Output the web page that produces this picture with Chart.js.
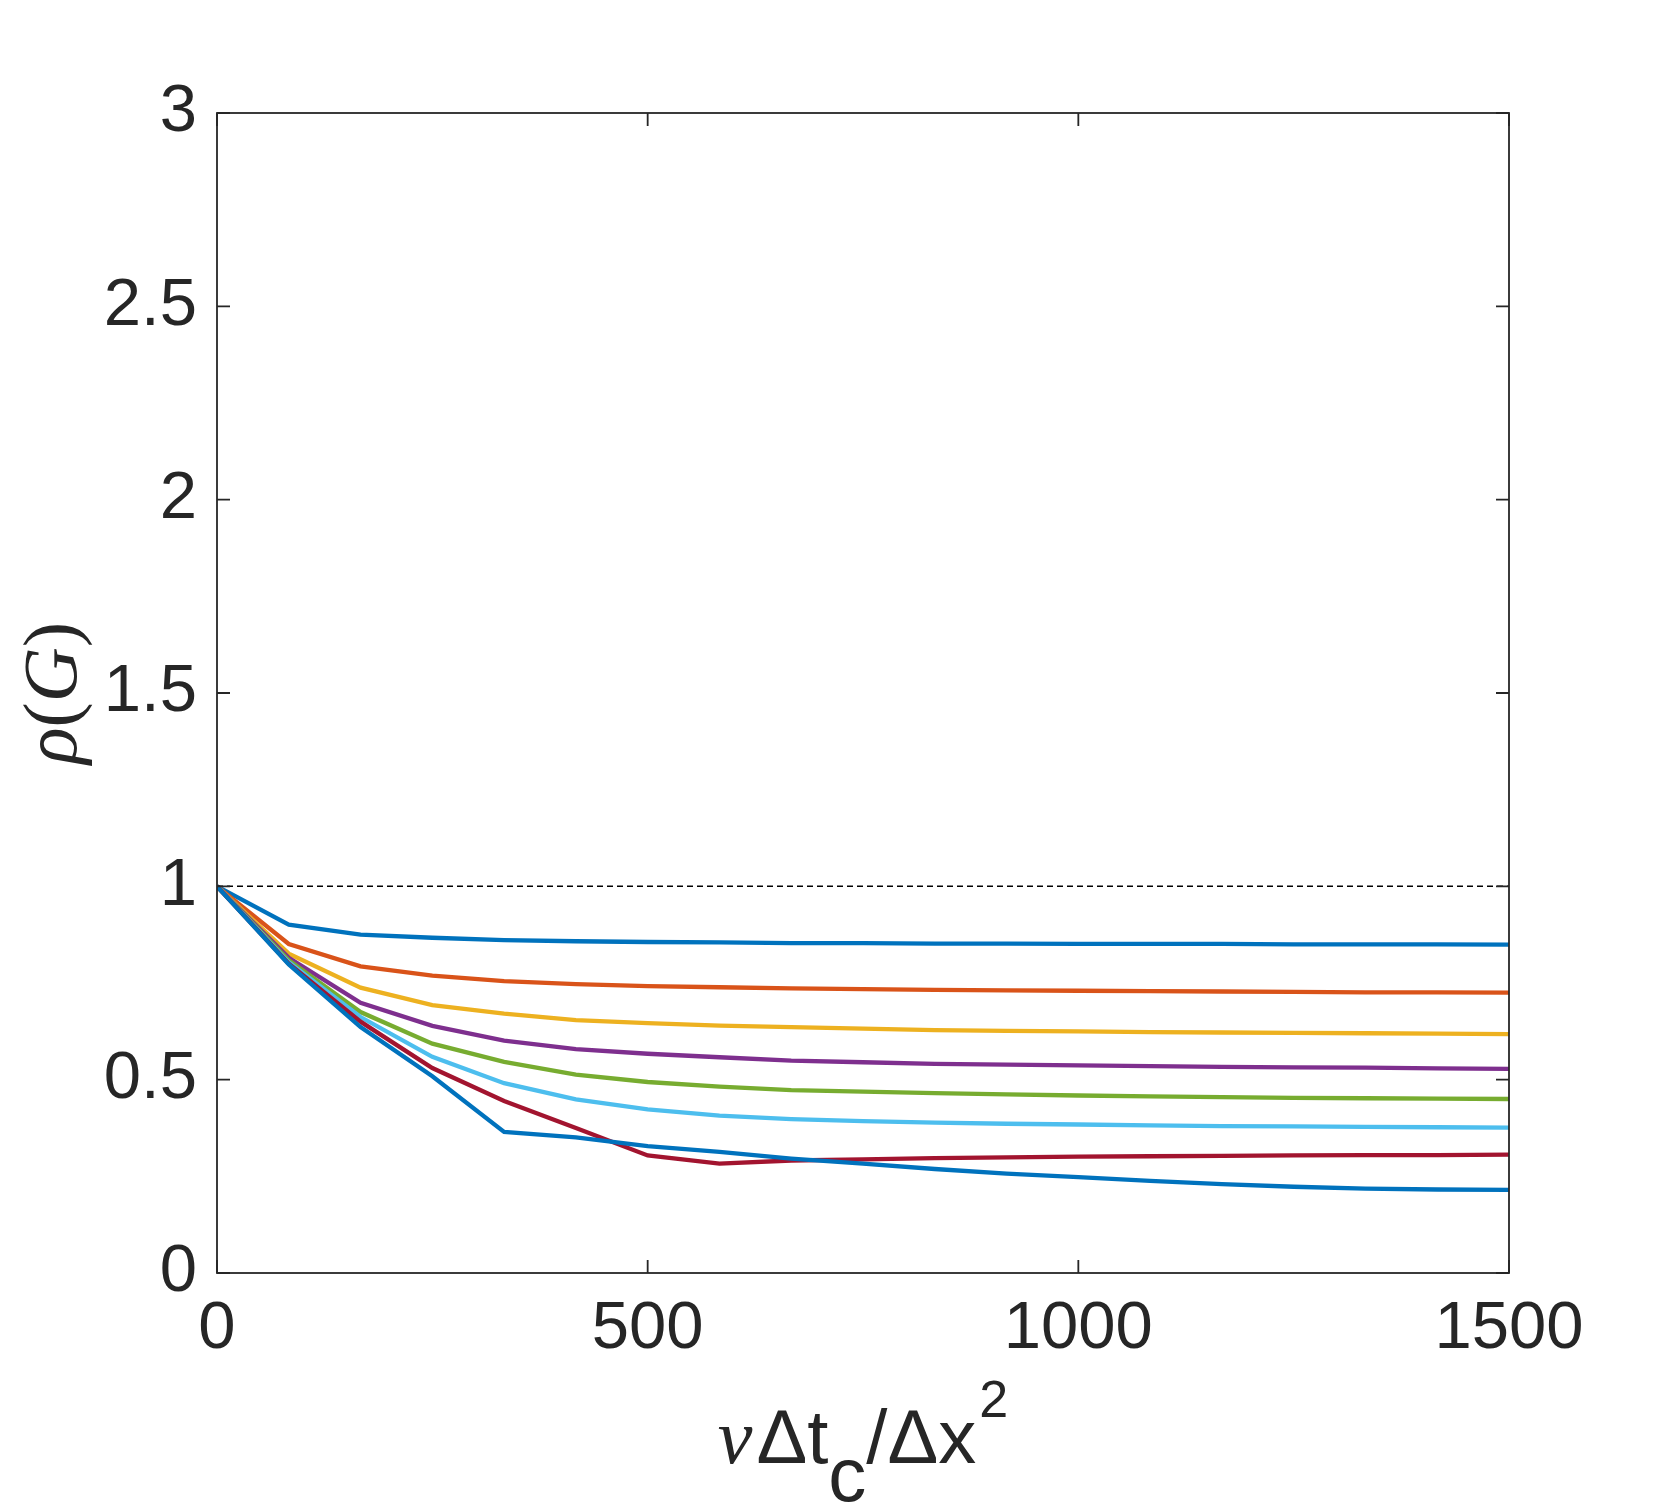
<!DOCTYPE html>
<html>
<head>
<meta charset="utf-8">
<script src="https://cdn.jsdelivr.net/npm/chart.js@4.4.1/dist/chart.umd.min.js"></script>
<style>
  html, body { margin: 0; padding: 0; background: #fff; }
  canvas { display: block; }
</style>
</head>
<body>
<canvas id="myChart" width="1667" height="1512"></canvas>
<script>
let popCanvas = document.getElementById("myChart");

// ---------------- data ----------------
let xValues = [0, 83.33, 166.67, 250, 333.33, 416.67, 500, 583.33, 666.67, 750,
               833.33, 916.67, 1000, 1083.33, 1166.67, 1250, 1333.33, 1416.67, 1500];

let series1 = [1, 0.901, 0.875, 0.867, 0.861, 0.858, 0.856, 0.855, 0.853, 0.853, 0.852, 0.852, 0.851, 0.851, 0.851, 0.850, 0.850, 0.850, 0.849];
let series2 = [1, 0.851, 0.793, 0.769, 0.755, 0.747, 0.742, 0.739, 0.736, 0.734, 0.732, 0.731, 0.730, 0.729, 0.728, 0.727, 0.726, 0.726, 0.725];
let series3 = [1, 0.826, 0.738, 0.693, 0.671, 0.654, 0.646, 0.640, 0.636, 0.632, 0.628, 0.626, 0.625, 0.623, 0.622, 0.621, 0.620, 0.619, 0.618];
let series4 = [1, 0.815, 0.699, 0.639, 0.601, 0.579, 0.567, 0.558, 0.549, 0.545, 0.541, 0.539, 0.537, 0.535, 0.533, 0.532, 0.531, 0.529, 0.528];
let series5 = [1, 0.809, 0.675, 0.593, 0.546, 0.513, 0.494, 0.482, 0.473, 0.469, 0.465, 0.462, 0.459, 0.457, 0.455, 0.453, 0.452, 0.451, 0.450];
let series6 = [1, 0.804, 0.662, 0.559, 0.491, 0.449, 0.423, 0.407, 0.398, 0.393, 0.389, 0.386, 0.384, 0.382, 0.380, 0.379, 0.378, 0.377, 0.376];
let series7 = [1, 0.800, 0.650, 0.530, 0.445, 0.375, 0.304, 0.283, 0.291, 0.294, 0.297, 0.299, 0.301, 0.302, 0.303, 0.304, 0.305, 0.305, 0.306];
let series8 = [1, 0.798, 0.636, 0.509, 0.365, 0.351, 0.328, 0.313, 0.296, 0.283, 0.269, 0.257, 0.248, 0.238, 0.230, 0.223, 0.218, 0.216, 0.215];

let refX = [0, 1500];
let refY = [1, 1];

let xTicks = [0, 500, 1000, 1500];
let xTickLabels = ["0", "500", "1000", "1500"];
let yTicks = [0, 0.5, 1, 1.5, 2, 2.5, 3];
let yTickLabels = ["0", "0.5", "1", "1.5", "2", "2.5", "3"];

// ---------------- styling ----------------
let allSeries = [series1, series2, series3, series4, series5, series6, series7, series8];
let lineColors = ['#0072BD', '#D95319', '#EDB120', '#7E2F8E', '#77AC30', '#4DBEEE', '#A2142F', '#0072BD'];
let textColor = '#262626';
let tickFont = { family: '"Liberation Sans", Arial, sans-serif', size: 67 };

function toPoints(xs, ys) {
    return xs.map((x, i) => ({ x: x, y: ys[i] }));
}

let datasets = allSeries.map((ys, i) => ({
    data: toPoints(xValues, ys),
    borderColor: lineColors[i],
    borderWidth: 4.3,
    pointRadius: 0,
    tension: 0,
    fill: false,
    order: allSeries.length - i + 1
}));

datasets.push({
    data: toPoints(refX, refY),
    borderColor: '#000000',
    borderWidth: 1.5,
    borderDash: [6, 4],
    pointRadius: 0,
    fill: false,
    order: 0
});

// box, inward ticks and axis titles, like the matlab figure
let framePlugin = {
    id: 'frame',
    afterDraw(chart) {
        let c = chart.ctx;
        let a = chart.chartArea;
        let xs = chart.scales.x;
        let ys = chart.scales.y;
        let tl = 13;

        c.save();
        c.strokeStyle = textColor;
        c.lineWidth = 1.8;
        c.strokeRect(a.left, a.top, a.right - a.left, a.bottom - a.top);

        c.beginPath();
        xTicks.forEach(v => {
            let px = xs.getPixelForValue(v);
            c.moveTo(px, a.bottom); c.lineTo(px, a.bottom - tl);
            c.moveTo(px, a.top); c.lineTo(px, a.top + tl);
        });
        yTicks.forEach(v => {
            let py = ys.getPixelForValue(v);
            c.moveTo(a.left, py); c.lineTo(a.left + tl, py);
            c.moveTo(a.right, py); c.lineTo(a.right - tl, py);
        });
        c.stroke();

        c.fillStyle = textColor;
        c.textBaseline = 'alphabetic';
        c.textAlign = 'left';

        // x title: nu Delta t_c / Delta x^2
        let serifIt = 'italic 78px "Liberation Serif", serif';
        let sans = '76px "Liberation Sans", Arial, sans-serif';
        let sansSmall = '52px "Liberation Sans", Arial, sans-serif';
        let parts = [
            { t: '\u03BD', f: serifIt, dy: 0, gap: 4 },
            { t: '\u0394t', f: sans, dy: 0, gap: 0 },
            { t: 'c', f: sans, dy: 38, gap: 0 },
            { t: '/\u0394x', f: sans, dy: 0, gap: 3 },
            { t: '2', f: sansSmall, dy: -46, gap: 0 }
        ];
        let total = 0;
        parts.forEach(p => { c.font = p.f; p.w = c.measureText(p.t).width + p.gap; total += p.w; });
        let cx = (a.left + a.right) / 2 - total / 2;
        let base = 1463;
        parts.forEach(p => {
            c.font = p.f;
            c.fillText(p.t, cx, base + p.dy);
            cx += p.w;
        });

        // y title: rho(G)
        let yIt = 'italic 76px "Liberation Serif", serif';
        let yUp = '76px "Liberation Serif", serif';
        let yParts = [
            { t: '\u03C1', f: yIt },
            { t: '(', f: yUp },
            { t: 'G', f: yIt },
            { t: ')', f: yUp }
        ];
        let yTotal = 0;
        yParts.forEach(p => { c.font = p.f; p.w = c.measureText(p.t).width; yTotal += p.w; });
        c.translate(76, (a.top + a.bottom) / 2);
        c.rotate(-Math.PI / 2);
        let yx = -yTotal / 2;
        yParts.forEach(p => {
            c.font = p.f;
            c.fillText(p.t, yx, 0);
            yx += p.w;
        });
        c.restore();
    }
};

let lineChart = new Chart(popCanvas, {
    type: 'line',
    data: { datasets: datasets },
    options: {
        responsive: false,
        animation: false,
        devicePixelRatio: 1,
        layout: { padding: { top: 113, right: 158, left: 0, bottom: 0 } },
        plugins: {
            legend: { display: false },
            tooltip: { enabled: false }
        },
        scales: {
            x: {
                type: 'linear',
                min: 0,
                max: 1500,
                afterBuildTicks: s => { s.ticks = xTicks.map(v => ({ value: v })); },
                afterFit: s => { s.height = 239; },
                ticks: {
                    font: tickFont,
                    color: textColor,
                    padding: 16,
                    maxRotation: 0,
                    autoSkip: false,
                    callback: v => xTickLabels[xTicks.indexOf(v)]
                },
                grid: { display: false, drawTicks: false },
                border: { display: false }
            },
            y: {
                type: 'linear',
                min: 0,
                max: 3,
                afterBuildTicks: s => { s.ticks = yTicks.map(v => ({ value: v })); },
                afterFit: s => { s.width = 217; },
                ticks: {
                    font: tickFont,
                    color: textColor,
                    padding: 20,
                    autoSkip: false,
                    callback: v => yTickLabels[yTicks.indexOf(v)]
                },
                grid: { display: false, drawTicks: false },
                border: { display: false }
            }
        }
    },
    plugins: [framePlugin]
});
</script>
</body>
</html>
